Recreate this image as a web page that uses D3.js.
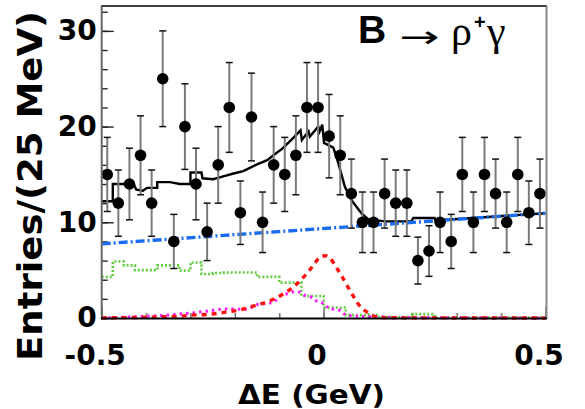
<!DOCTYPE html>
<html><head><meta charset="utf-8">
<script src="https://cdn.jsdelivr.net/npm/d3@7"></script>
<style>body{margin:0;background:#fff}svg{display:block}</style>
</head><body>
<svg id="c" width="585" height="409"></svg>
<script>
// ---- data ----
const binCenters = [-0.4875,-0.4625,-0.4375,-0.4125,-0.3875,-0.3625,-0.3375,-0.3125,-0.2875,-0.2625,
  -0.2375,-0.2125,-0.1875,-0.1625,-0.1375,-0.1125,-0.0875,-0.0625,-0.0375,-0.0125,
  0.0125,0.0375,0.0625,0.0875,0.1125,0.1375,0.1625,0.1875,0.2125,0.2375,
  0.2625,0.2875,0.3125,0.3375,0.3625,0.3875,0.4125,0.4375,0.4625,0.4875];
const entries = [15,12,14,17,12,25,8,20,14,9,16,22,11,21,10,16,15,17,22,22,
  19,17,13,10,10,13,12,12,6,7,10,8,15,10,15,13,10,15,11,13];
const binEdges = [-0.5,-0.475,-0.45,-0.425,-0.4,-0.375,-0.35,-0.325,-0.3,-0.275,-0.25,-0.225,-0.2,-0.175,-0.15,-0.125,-0.1,-0.075,-0.05,-0.025,
  0,0.025,0.05,0.075,0.1,0.125,0.15,0.175,0.2,0.225,0.25,0.275,0.3,0.325,0.35,0.375,0.4,0.425,0.45,0.475,0.5];
const otherB = [4.3,5.9,5.5,5.0,5.0,5.5,5.5,4.95,5.8,4.6,4.7,4.75,4.75,4.75,4.3,4.3,3.7,3.7,2.3,2.3,
  1.1,1.1,0.3,0.3,0.3,0.1,0.1,0.1,0.4,0.4,0.05,0.05,0.05,0.05,0.05,0.05,0.05,0.05,0.05,0.05];
const continuum = [[-0.5,7.75],[0.5,10.95]];
const crossFeed = [[-0.5,0],[-0.437,0.1],[-0.369,0.25],[-0.3,0.5],[-0.226,0.95],[-0.172,0.9],[-0.147,1.45],
  [-0.113,1.6],[-0.098,2.3],[-0.068,2.75],[-0.053,2.7],[-0.044,2.4],[-0.023,2.1],[-0.017,1.8],[0.002,1.5],
  [0.011,1.0],[0.038,0.8],[0.049,0.3],[0.083,0.15],[0.173,0.05],[0.5,0]];
const signal = [[-0.5,0.02],[-0.373,0.1],[-0.321,0.2],[-0.298,0.3],[-0.253,0.4],[-0.215,0.65],[-0.188,0.85],
  [-0.17,1.1],[-0.143,1.45],[-0.118,1.85],[-0.095,2.4],[-0.075,3.0],[-0.057,3.7],[-0.038,4.65],[-0.023,5.5],
  [-0.007,6.4],[0.004,6.5],[0.015,6.2],[0.03,5.2],[0.042,4.3],[0.054,3.3],[0.068,2.2],[0.079,1.4],[0.1,0.55],
  [0.12,0.1],[0.15,0.02],[0.5,0]];
const total = [[-0.5,12.2],[-0.475,12.2],[-0.475,14.0],[-0.428,14.0],[-0.422,13.4],[-0.407,13.3],[-0.398,13.6],
  [-0.375,13.6],[-0.375,14.2],[-0.346,14.2],[-0.324,14.0],[-0.3,14.0],[-0.3,15.2],[-0.275,15.2],[-0.273,14.6],
  [-0.249,14.5],[-0.226,14.8],[-0.203,15.1],[-0.181,15.35],[-0.15,16.05],[-0.127,16.5],[-0.113,17.0],
  [-0.093,17.7],[-0.071,18.7],[-0.052,19.6],[-0.049,18.6],[-0.034,19.5],[-0.031,18.95],[-0.012,20.0],
  [-0.009,19.5],[-0.003,20.2],[0.001,18.3],[0.022,17.8],[0.033,16.2],[0.048,13.7],[0.063,12.3],[0.086,10.9],
  [0.101,10.3],[0.138,10.1],[0.198,10.1],[0.202,10.45],[0.25,10.45],[0.252,10.2],[0.5,10.95]];
const yMajorTicks = [0,10,20,30];
const yMinorTicks = [0,2,4,6,8,10,12,14,16,18,20,22,24,26,28,30,32];
const xMajorTicks = [-0.5,0,0.5];
const xTickLabels = ["-0.5","0","0.5"];
const xMinorTicks = [-0.5,-0.4,-0.3,-0.2,-0.1,0,0.1,0.2,0.3,0.4,0.5];

// ---- drawing ----
const svg = d3.select("#c");
const x = d3.scaleLinear().domain([-0.5,0.5]).range([101.7,545.5]);
const y = d3.scaleLinear().domain([0,32.6]).range([318,6]);
const BOLD = "'DejaVu Sans', sans-serif";

// axes ticks (inward)
const gy1 = svg.append("g").attr("transform","translate(101.7,0)")
  .call(d3.axisLeft(y).tickValues(yMinorTicks).tickSizeInner(-6).tickSizeOuter(0).tickFormat(""));
const gy2 = svg.append("g").attr("transform","translate(101.7,0)")
  .call(d3.axisLeft(y).tickValues(yMajorTicks).tickSizeInner(-12).tickSizeOuter(0).tickPadding(5).tickFormat(d3.format("d")));
[gy1,gy2].forEach(g=>{g.select(".domain").remove(); g.selectAll("line").attr("stroke","#222").attr("stroke-width",1.4);});
gy2.selectAll("text").attr("font-family",BOLD).attr("font-weight","bold").attr("font-size",28).attr("fill","#000");

const gx1 = svg.append("g").attr("transform","translate(0,318)")
  .call(d3.axisBottom(x).tickValues(xMinorTicks).tickSizeInner(-5).tickSizeOuter(0).tickFormat(""));
const gx2 = svg.append("g").attr("transform","translate(0,318)")
  .call(d3.axisBottom(x).tickValues(xMajorTicks).tickSizeInner(-11).tickSizeOuter(0).tickPadding(27)
    .tickFormat((d,i)=>xTickLabels[i]));
[gx1,gx2].forEach(g=>{g.select(".domain").remove(); g.selectAll("line").attr("stroke","#777").attr("stroke-width",1.6);});
gx2.selectAll("text").attr("font-family",BOLD).attr("font-weight","bold").attr("font-size",28).attr("fill","#000").attr("dx",-7);

const line = d3.line().x(d=>x(d[0])).y(d=>y(d[1]));

// other-B background histogram (green dotted)
const greenPts = otherB.map((v,i)=>[binEdges[i],v]).concat([[binEdges[40],otherB[39]]]);
svg.append("path").attr("d",d3.line().x(d=>x(d[0])).y(d=>y(d[1])).curve(d3.curveStepAfter)(greenPts))
  .attr("fill","none").attr("stroke","#62cc40").attr("stroke-width",2.6).attr("stroke-dasharray","2,2");

// cross-feed (magenta dotted)
svg.append("path").attr("d",line(crossFeed)).attr("fill","none").attr("stroke","#ff1aff")
  .attr("stroke-width",3).attr("stroke-dasharray","2.5,4");
// signal (red dashed)
svg.append("path").attr("d",d3.line().x(d=>x(d[0])).y(d=>y(d[1])).curve(d3.curveMonotoneX)(signal))
  .attr("fill","none").attr("stroke","#ff1010").attr("stroke-width",3.4).attr("stroke-dasharray","5,5");
// total (black)
svg.append("path").attr("d",line(total)).attr("fill","none").attr("stroke","#000").attr("stroke-width",2.4)
  .attr("stroke-linejoin","miter");
// continuum (blue dash-dot)
svg.append("path").attr("d",line(continuum)).attr("fill","none").attr("stroke","#1a6cf0")
  .attr("stroke-width",3.4).attr("stroke-dasharray","9,3,2,3");

// data points with errors
const pts = svg.append("g");
entries.forEach((n,i)=>{
  const cx = x(binCenters[i]), e = Math.sqrt(n);
  pts.append("line").attr("x1",cx).attr("x2",cx).attr("y1",y(n+e)).attr("y2",y(n-e))
    .attr("stroke","#7a7a7a").attr("stroke-width",2);
  [n+e,n-e].forEach(v=>pts.append("line").attr("x1",cx-3.5).attr("x2",cx+3.5).attr("y1",y(v)).attr("y2",y(v))
    .attr("stroke","#111").attr("stroke-width",1.5));
  pts.append("circle").attr("cx",cx).attr("cy",y(n)).attr("r",5.8).attr("fill","#000");
});

// frame
svg.append("line").attr("x1",101).attr("x2",547).attr("y1",6).attr("y2",6).attr("stroke","#000").attr("stroke-width",1.6);
svg.append("line").attr("x1",101.7).attr("x2",101.7).attr("y1",6).attr("y2",319).attr("stroke","#666").attr("stroke-width",2);
svg.append("line").attr("x1",546.5).attr("x2",546.5).attr("y1",6).attr("y2",319).attr("stroke","#888").attr("stroke-width",2);
svg.append("line").attr("x1",101).attr("x2",547).attr("y1",318.5).attr("y2",318.5).attr("stroke","#000").attr("stroke-width",2);

// axis titles
svg.append("text").attr("transform","translate(42,186) rotate(-90)").attr("text-anchor","middle")
  .attr("font-family",BOLD).attr("font-weight","bold").attr("font-size",34)
  .attr("textLength",350).attr("lengthAdjust","spacingAndGlyphs").text("Entries/(25 MeV)");
svg.append("text").attr("x",311.5).attr("y",404).attr("text-anchor","middle")
  .attr("font-family",BOLD).attr("font-weight","bold").attr("font-size",27)
  .attr("textLength",147).attr("lengthAdjust","spacingAndGlyphs").text("\u0394E (GeV)");

// title
const SANS = "'Liberation Sans', Arial, sans-serif", SERIF = "'Liberation Serif', 'Times New Roman', serif";
svg.append("text").attr("x",358).attr("y",43).attr("font-family",SANS).attr("font-weight","bold").attr("font-size",39).text("B");
svg.append("text").attr("transform","translate(399,47) scale(1.6,1)").attr("font-family","'DejaVu Sans', sans-serif")
  .attr("font-size",30).text("\u2192");
svg.append("text").attr("x",451).attr("y",45).attr("font-family",SERIF).attr("font-size",42).text("\u03C1");
svg.append("text").attr("x",474).attr("y",29).attr("font-family",SANS).attr("font-weight","bold").attr("font-size",20).text("+");
svg.append("text").attr("x",487).attr("y",45).attr("font-family",SERIF).attr("font-size",42).text("\u03B3");
</script>
</body></html>
